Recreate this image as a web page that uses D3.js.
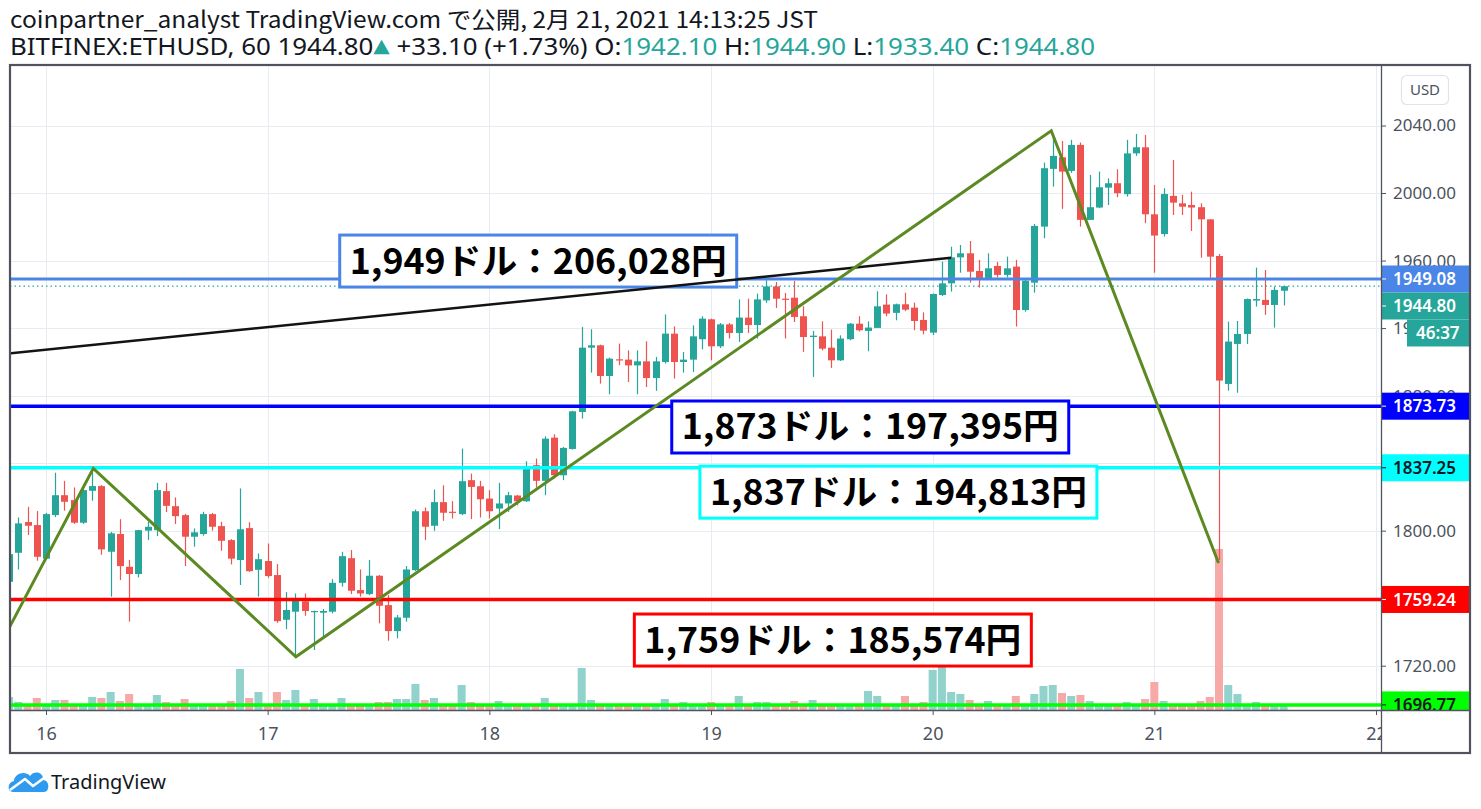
<!DOCTYPE html>
<html><head><meta charset="utf-8">
<script src="https://cdn.jsdelivr.net/npm/d3@7"></script>
<style>html,body{margin:0;padding:0;background:#fff;}svg{display:block;}</style>
</head><body>
<svg id="chart" width="1481" height="809"></svg>
<script>
// ---------------- DATA ----------------
// hourly candles, first candle = 2021-02-15 20:00, one per hour
const firstCandle = "2021-02-15T20:00:00Z";
const opens = [1769.7,1786.9,1805.1,1803.3,1783.4,1809.2,1821.0,1818.1,1804.7,1823.6,1826.4,1787.5,1798.0,1778.6,1774.3,1800.0,1800.3,1823.4,1814.5,1809.2,1796.4,1798.0,1809.8,1802.7,1794.4,1782.6,1801.5,1776.8,1782.0,1773.7,1747.2,1752.0,1758.1,1752.0,1751.4,1752.0,1769.1,1783.7,1764.8,1762.4,1773.3,1755.9,1740.5,1748.4,1776.6,1811.5,1802.9,1816.9,1811.2,1809.8,1829.9,1826.3,1819.0,1813.1,1816.1,1820.8,1817.4,1838.8,1829.5,1855.1,1832.8,1848.4,1870.3,1908.4,1909.8,1891.6,1901.5,1901.3,1897.9,1900.3,1890.4,1899.9,1916.7,1899.9,1901.3,1913.4,1925.2,1909.2,1922.2,1917.1,1926.2,1921.8,1936.4,1944.7,1937.4,1938.0,1927.0,1914.7,1915.1,1908.4,1900.9,1913.4,1922.6,1918.3,1920.1,1933.9,1929.0,1934.1,1932.1,1924.8,1917.3,1939.6,1946.5,1961.9,1964.3,1953.8,1949.5,1956.8,1951.5,1956.4,1930.7,1946.9,1980.1,2014.3,2021.2,2013.1,2028.5,1984.1,1991.4,2003.2,2005.8,1999.3,2023.5,2027.1,1987.4,1975.7,1998.3,1993.9,1992.9,1991.6,1984.4,1962.7,1886.9,1910.6,1916.5,1936.3,1936.7,1933.7,1942.1];
const highs = [1788.0,1807.8,1814.1,1811.6,1810.5,1834.3,1829.5,1825.6,1824.5,1834.9,1827.0,1799.3,1806.8,1782.6,1800.5,1805.3,1828.3,1828.3,1819.7,1810.0,1801.3,1811.2,1810.5,1805.3,1795.0,1825.0,1805.0,1786.5,1792.4,1780.2,1763.6,1762.8,1762.8,1752.6,1753.6,1771.3,1787.5,1788.5,1777.0,1782.6,1773.7,1761.8,1750.0,1779.0,1812.5,1813.7,1824.4,1826.9,1817.5,1848.6,1833.8,1829.5,1824.0,1828.3,1823.0,1821.2,1841.1,1842.7,1855.9,1857.1,1849.6,1871.0,1920.6,1919.3,1910.2,1902.5,1910.8,1906.8,1906.8,1912.2,1902.9,1928.1,1921.0,1905.8,1921.6,1927.0,1925.6,1923.0,1923.0,1937.0,1937.4,1940.4,1948.3,1947.3,1940.8,1947.9,1932.9,1918.3,1924.0,1919.1,1915.7,1923.0,1927.0,1924.0,1941.8,1940.0,1934.5,1941.0,1935.1,1929.3,1940.5,1959.4,1968.2,1969.2,1971.6,1960.4,1964.3,1959.2,1962.3,1960.4,1948.5,1981.7,2018.0,2033.4,2030.9,2031.5,2029.9,2010.7,2012.7,2008.7,2014.1,2031.5,2035.0,2034.4,2004.8,2002.8,2019.6,1998.9,2000.8,1993.9,1984.5,1963.9,1923.8,1924.2,1937.5,1955.8,1954.4,1944.5,1944.9];
const lows = [1766.0,1777.0,1797.4,1782.2,1783.0,1808.0,1811.8,1804.0,1804.0,1817.7,1785.7,1760.9,1770.7,1746.1,1772.3,1794.4,1796.8,1811.0,1803.9,1779.0,1790.5,1797.0,1800.0,1788.1,1780.0,1767.8,1775.6,1760.9,1772.0,1745.4,1741.7,1725.3,1749.6,1729.3,1737.2,1751.0,1766.8,1762.4,1760.9,1761.8,1745.1,1734.8,1736.2,1746.1,1776.0,1794.4,1799.9,1805.8,1807.2,1809.2,1806.8,1807.8,1807.2,1800.9,1811.1,1815.0,1817.0,1825.5,1821.0,1831.0,1829.9,1848.0,1866.4,1893.6,1887.1,1880.8,1898.0,1888.1,1880.8,1885.1,1882.8,1899.0,1890.1,1893.6,1894.0,1907.4,1900.9,1908.2,1913.8,1911.8,1917.1,1913.8,1934.9,1931.9,1913.8,1923.6,1905.9,1891.1,1906.8,1896.4,1900.5,1912.8,1918.0,1906.3,1920.0,1927.0,1924.6,1930.0,1918.7,1916.3,1915.9,1939.0,1941.6,1952.8,1946.9,1944.0,1949.0,1950.0,1950.0,1920.9,1929.7,1941.0,1973.2,2003.8,1990.6,2012.0,1980.1,1984.0,1991.0,1992.9,1997.5,1997.9,2022.0,1982.1,1952.8,1974.2,1987.0,1987.0,1977.5,1961.7,1949.5,1782.6,1882.9,1881.7,1910.6,1932.7,1927.8,1920.3,1933.4];
const closes = [1786.1,1804.3,1802.9,1784.5,1809.8,1821.0,1817.1,1804.7,1824.0,1826.4,1788.9,1798.4,1779.0,1774.3,1800.3,1802.3,1824.0,1814.7,1808.6,1796.4,1799.0,1809.8,1802.3,1794.0,1783.4,1800.8,1776.0,1783.1,1773.1,1746.4,1753.0,1758.5,1752.4,1752.4,1752.4,1769.1,1784.9,1764.4,1762.8,1773.3,1755.5,1740.5,1748.6,1777.0,1811.5,1802.3,1816.9,1810.6,1810.6,1829.3,1825.9,1818.6,1811.5,1816.1,1821.0,1817.4,1836.8,1829.5,1854.5,1832.8,1849.0,1870.7,1908.4,1909.8,1891.6,1901.9,1901.1,1897.9,1900.3,1890.4,1900.3,1916.7,1899.9,1901.3,1915.1,1925.6,1909.2,1922.2,1917.1,1926.2,1921.8,1937.0,1944.7,1937.4,1937.0,1926.6,1914.7,1915.5,1907.8,1900.9,1913.8,1922.6,1918.7,1920.3,1932.9,1928.6,1934.1,1930.9,1924.2,1918.5,1940.2,1946.5,1961.9,1964.3,1953.4,1949.5,1955.4,1951.5,1955.4,1930.7,1948.1,1980.5,2014.7,2022.0,2012.7,2028.5,1984.1,1991.6,2003.4,2005.8,1999.9,2023.5,2027.1,1987.4,1974.8,1999.4,1994.3,1991.9,1991.4,1984.4,1962.3,1888.9,1912.0,1916.5,1937.2,1937.2,1933.7,1942.6,1944.8];
const volumes = [13,8,4,12,4,10,10,4,4,13,12,18,9,16,4,4,15,8,4,11,4,4,4,4,9,41,12,18,4,18,10,20,4,11,4,4,12,4,4,4,8,8,11,11,26,10,12,4,4,25,8,4,4,9,4,4,4,4,12,4,4,4,42,10,4,4,4,4,4,4,4,11,4,8,4,4,8,4,4,14,4,8,8,4,4,9,4,10,4,4,4,4,4,19,14,4,4,14,4,8,40,78,18,16,10,4,9,4,4,14,4,16,24,25,17,14,15,9,4,4,4,8,4,11,28,9,4,4,4,9,13,161,25,16,4,8,4,4,4];

const dayTicks = ["2021-02-16","2021-02-17","2021-02-18","2021-02-19","2021-02-20","2021-02-21","2021-02-22"];
const priceTicks = [1720,1760,1800,1840,1880,1920,1960,2000,2040];

const levelPrices = [1949.08,1873.73,1837.25,1759.24,1696.77];
const lastPrice = 1944.80;
const countdown = "46:37";

// annotation texts, anchored at [hours from 16 Feb 00:00 (left edge), price (centre)]
const annotationTexts = ["1,949ドル：206,028円","1,873ドル：197,395円","1,837ドル：194,813円","1,759ドル：185,574円"];
const annotationAnchors = [[31.8,1959.7],[67.75,1861.4],[70.8,1822.8],[63.7,1735.2]];

// drawings: [hours from 16 Feb 00:00, price]
const blackTrend = [[-4,1905.0],[98.0,1961.7]];
const zigzag = [[-4,1742.3],[5.12,1836.9],[27.06,1725.3],[108.84,2036.9],[126.95,1780.8]];

const headerLine1 = "coinpartner_analyst TradingView.com で公開, 2月 21, 2021 14:13:25 JST";
const headerSymbol = "BITFINEX:ETHUSD, 60 1944.80";
const headerChange = " +33.10 (+1.73%)";
const headerOHLC = [["O:","1942.10"],["H:","1944.90"],["L:","1933.40"],["C:","1944.80"]];

// ---------------- STYLE ----------------
const UP = "#26a69a", DOWN = "#ef5350";
const UPV = "#92d2cc", DOWNV = "#f7a9a7";
const levelStyles = [
  {line:"#4a86e8", bg:"#4a86e8", fg:"#ffffff"},
  {line:"#0000ff", bg:"#0000ff", fg:"#ffffff"},
  {line:"#00ffff", bg:"#00ffff", fg:"#131722"},
  {line:"#ff0000", bg:"#ff0000", fg:"#ffffff"},
  {line:"#00ff00", bg:"#00ff00", fg:"#131722"}
];
const annColors = ["#4a86e8","#0000ff","#00ffff","#ff0000"];
const FRAME = "#50535e", AXTXT = "#4c525e", GRID = "#e6ecf2";
const FONT = "'Noto Sans', 'DejaVu Sans', sans-serif";
const CJK = "'Noto Sans CJK JP', 'Noto Sans', sans-serif";

// ---------------- CHART ----------------
const svg = d3.select("#chart");
const P = {left:10, right:1381, top:65, bottom:710, outerRight:1470, outerBottom:753};
const HOUR = 3600e3;
const day0 = Date.UTC(2021,1,16);
const t0 = Date.parse(firstCandle);
const x = d3.scaleUtc().domain([new Date(day0), new Date(Date.UTC(2021,1,22))]).range([46,1376]);
const y = d3.scaleLinear().domain([1720,2040]).range([665.7,125.5]);
const vy = d3.scaleLinear().domain([0,161]).range([P.bottom, P.bottom-161]);
const hx = h => x(new Date(day0 + h*HOUR));

const candles = opens.map((o,i)=>({t:new Date(t0+i*HOUR), o, h:highs[i], l:lows[i], c:closes[i], v:volumes[i]}));
const step = x(new Date(t0+HOUR)) - x(new Date(t0));
const bodyW = 7, volW = step - 1.2;

svg.append("rect").attr("width",1481).attr("height",809).attr("fill","#fff");

const defs = svg.append("defs");
defs.append("clipPath").attr("id","plotClip").append("rect")
  .attr("x",P.left+1).attr("y",P.top+1).attr("width",P.right-P.left-1).attr("height",P.bottom-P.top-1);
defs.append("clipPath").attr("id","axClip").append("rect")
  .attr("x",P.right).attr("y",P.top+1).attr("width",P.outerRight-P.right).attr("height",P.bottom-P.top-1);
defs.append("clipPath").attr("id","timeClip").append("rect")
  .attr("x",P.left).attr("y",P.bottom).attr("width",P.right-P.left).attr("height",P.outerBottom-P.bottom);

const plot = svg.append("g").attr("clip-path","url(#plotClip)");

// grid
plot.append("g").selectAll("line").data(priceTicks).join("line")
  .attr("x1",P.left).attr("x2",P.right).attr("y1",d=>Math.round(y(d))+0.5).attr("y2",d=>Math.round(y(d))+0.5)
  .attr("stroke",GRID).attr("stroke-width",1);
plot.append("g").selectAll("line").data(dayTicks).join("line")
  .attr("y1",P.top).attr("y2",P.bottom).attr("x1",d=>Math.round(x(new Date(d)))+0.5).attr("x2",d=>Math.round(x(new Date(d)))+0.5)
  .attr("stroke",GRID).attr("stroke-width",1);

// volume
plot.append("g").selectAll("rect").data(candles).join("rect")
  .attr("x",d=>x(d.t)-volW/2).attr("width",volW)
  .attr("y",d=>vy(d.v)).attr("height",d=>P.bottom-vy(d.v))
  .attr("fill",d=>d.c>=d.o?UPV:DOWNV);

// candles
const cg = plot.append("g").selectAll("g").data(candles).join("g");
cg.append("line").attr("x1",d=>Math.round(x(d.t))+0.5).attr("x2",d=>Math.round(x(d.t))+0.5)
  .attr("y1",d=>y(d.h)).attr("y2",d=>y(d.l))
  .attr("stroke",d=>d.c>=d.o?UP:DOWN).attr("stroke-width",1.2);
cg.append("rect").attr("x",d=>Math.round(x(d.t))+0.5-bodyW/2).attr("width",bodyW)
  .attr("y",d=>y(Math.max(d.o,d.c))).attr("height",d=>Math.max(1.2,Math.abs(y(d.o)-y(d.c))))
  .attr("fill",d=>d.c>=d.o?UP:DOWN);

// horizontal levels
plot.append("g").selectAll("line").data(levelPrices).join("line")
  .attr("x1",P.left).attr("x2",P.right).attr("y1",d=>y(d)).attr("y2",d=>y(d))
  .attr("stroke",(d,i)=>levelStyles[i].line).attr("stroke-width",(d,i)=>i===0?3:3.5);

// last price dotted line
plot.append("line").attr("x1",P.left).attr("x2",P.right).attr("y1",y(lastPrice)).attr("y2",y(lastPrice))
  .attr("stroke",UP).attr("stroke-width",1.3).attr("stroke-dasharray","1.5,3");

// annotation boxes
const ann = plot.append("g").selectAll("g").data(annotationTexts).join("g")
  .attr("transform",(d,i)=>`translate(${hx(annotationAnchors[i][0])},${y(annotationAnchors[i][1])})`);
ann.append("rect").attr("x",0).attr("y",-26).attr("width",397).attr("height",52)
  .attr("fill","#fff").attr("stroke",(d,i)=>annColors[i]).attr("stroke-width",3);
ann.append("text").attr("x",198.5).attr("y",12.5).attr("text-anchor","middle")
  .attr("font-family",CJK).attr("font-weight",700).attr("font-size",35).attr("fill","#000")
  .attr("textLength",377).attr("lengthAdjust","spacingAndGlyphs").text(d=>d);

// trend drawings
const lineGen = d3.line().x(d=>hx(d[0])).y(d=>y(d[1]));
plot.append("path").attr("d",lineGen(blackTrend)).attr("fill","none").attr("stroke","#131313").attr("stroke-width",2.5);
plot.append("path").attr("d",lineGen(zigzag)).attr("fill","none").attr("stroke","#5b8a22").attr("stroke-width",3).attr("stroke-linejoin","miter");

// ---------- axes ----------
// price axis (labels hidden behind coloured price tags are skipped, as in TradingView)
const tagPrices = [levelPrices[0], lastPrice, levelPrices[1], levelPrices[2], levelPrices[3], levelPrices[4]];
const visibleTicks = priceTicks.filter(p => !tagPrices.some(q => Math.abs(y(p)-y(q)) < 9));
const yAxis = d3.axisRight(y).tickValues(priceTicks).tickFormat(d=>d.toFixed(2)).tickSize(5).tickPadding(7);
const yaOuter = svg.append("g").attr("clip-path","url(#axClip)");
const ya = yaOuter.append("g").attr("transform",`translate(${P.right},0)`).call(yAxis);
ya.select(".domain").remove();
ya.selectAll("line").attr("stroke",FRAME);
ya.selectAll("text").attr("font-family",FONT).attr("font-size",17).attr("fill",AXTXT)
  .style("display",d=>visibleTicks.includes(d)?null:"none");

// price labels
const axg = svg.append("g").attr("clip-path","url(#axClip)");
function priceLabel(cy, txt, bg, fg, x0){
  const g = axg.append("g");
  g.append("rect").attr("x",x0).attr("y",cy-13.5).attr("width",P.outerRight-x0).attr("height",27).attr("fill",bg);
  if (x0===P.right) g.append("line").attr("x1",P.right).attr("x2",P.right+5).attr("y1",cy).attr("y2",cy).attr("stroke",fg).attr("stroke-width",1);
  g.append("text").attr("x",x0===P.right?P.right+12:x0+9).attr("y",cy).attr("dy","0.36em")
    .attr("font-family",FONT).attr("font-size",17).attr("font-weight",600).attr("fill",fg).text(txt);
}
levelPrices.forEach((p,i)=>{
  if(i===0) return;
  priceLabel(y(p), p.toFixed(2), levelStyles[i].bg, levelStyles[i].fg, P.right);
});
// last price label stacked under the 1949.08 label
const l0 = y(levelPrices[0]);
priceLabel(l0, levelPrices[0].toFixed(2), levelStyles[0].bg, levelStyles[0].fg, P.right);
priceLabel(l0+27, lastPrice.toFixed(2), UP, "#fff", P.right);
priceLabel(l0+54, countdown, UP, "#fff", 1407);

// USD badge
svg.append("rect").attr("x",1401.5).attr("y",75.5).attr("width",47).attr("height",29).attr("rx",5)
  .attr("fill","#fff").attr("stroke","#e0e3eb").attr("stroke-width",1.2);
svg.append("text").attr("x",1425).attr("y",90).attr("dy","0.35em").attr("text-anchor","middle")
  .attr("font-family",FONT).attr("font-size",15).attr("fill",AXTXT).text("USD");

// time axis
const xAxis = d3.axisBottom(x).tickValues(dayTicks.map(d=>new Date(d))).tickFormat(d3.utcFormat("%-d")).tickSize(5).tickPadding(12);
const xaOuter = svg.append("g").attr("clip-path","url(#timeClip)");
const xa = xaOuter.append("g").attr("transform",`translate(0,${P.bottom})`).call(xAxis);
xa.select(".domain").remove();
xa.selectAll("line").attr("stroke",FRAME);
xa.selectAll("text").attr("font-family",FONT).attr("font-size",18).attr("fill",AXTXT);

// frame
svg.append("line").attr("x1",P.left).attr("x2",P.outerRight).attr("y1",P.bottom+0.5).attr("y2",P.bottom+0.5).attr("stroke",FRAME).attr("stroke-width",1.3);
svg.append("line").attr("x1",P.right+0.5).attr("x2",P.right+0.5).attr("y1",P.top).attr("y2",P.outerBottom).attr("stroke",FRAME).attr("stroke-width",1.3);
svg.append("rect").attr("x",P.left).attr("y",P.top).attr("width",P.outerRight-P.left).attr("height",P.outerBottom-P.top)
  .attr("fill","none").attr("stroke",FRAME).attr("stroke-width",2.2);

// header
svg.append("text").attr("x",10).attr("y",28).attr("font-family",CJK).attr("font-size",23).attr("fill","#131722")
  .attr("textLength",808).attr("lengthAdjust","spacingAndGlyphs").text(headerLine1);
const h2 = svg.append("text").attr("x",10).attr("y",55).attr("font-family",FONT).attr("font-size",23).attr("fill","#131722")
  .attr("textLength",1085).attr("lengthAdjust","spacingAndGlyphs");
h2.append("tspan").text(headerSymbol);
h2.append("tspan").attr("fill",UP).attr("font-size",19).attr("dy",-3).text("▲");
h2.append("tspan").attr("dy",3).text(headerChange);
headerOHLC.forEach(([k,v])=>{
  h2.append("tspan").text(" "+k);
  h2.append("tspan").attr("fill",UP).text(v);
});

// TradingView logo
const logo = svg.append("g");
logo.append("path").attr("d","M13,792 C7,792 7,782 14,781 C14,774 25,770 30,776 C34,770 44,772 43,780 C50,780 50,792 44,792 Z").attr("fill","#2e9bf0");
logo.append("polyline").attr("points","10,790 25,779 33,786 44,778").attr("fill","none").attr("stroke","#fff").attr("stroke-width",2.6).attr("stroke-linejoin","round");
logo.append("text").attr("x",51).attr("y",789).attr("font-family",FONT).attr("font-size",20).attr("fill","#131722").text("TradingView");
</script>
</body></html>
